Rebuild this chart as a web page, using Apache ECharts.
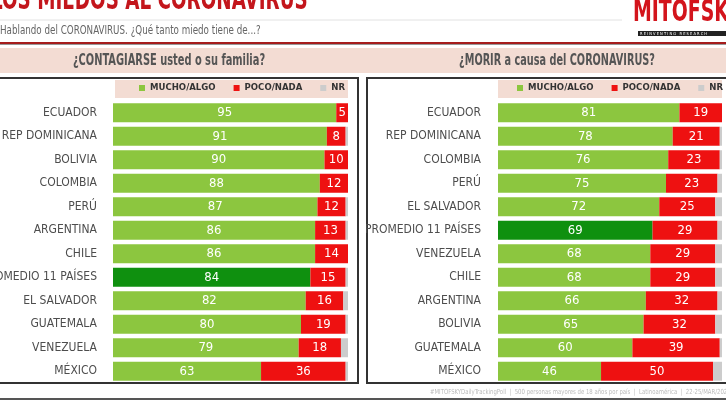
<!DOCTYPE html>
<html><head><meta charset="utf-8">
<script src="https://cdn.jsdelivr.net/npm/echarts@6/dist/echarts.min.js"></script>
<style>html,body{margin:0;padding:0;background:#fff;}#c{width:726px;height:400px;}</style>
</head><body><div id="c"></div>
<script>
var FONT = '"DejaVu Sans Condensed","Liberation Sans Narrow",sans-serif';
var seriesNames = ['MUCHO/ALGO','POCO/NADA','NR'];
var leftCats = ['ECUADOR','REP DOMINICANA','BOLIVIA','COLOMBIA','PERÚ','ARGENTINA','CHILE','PROMEDIO 11 PAÍSES','EL SALVADOR','GUATEMALA','VENEZUELA','MÉXICO'];
var leftMucho = [95,91,90,88,87,86,86,84,82,80,79,63];
var leftPoco  = [5,8,10,12,12,13,14,15,16,19,18,36];
var leftNR    = [0,1,0,0,1,1,0,1,2,1,3,1];
var rightCats = ['ECUADOR','REP DOMINICANA','COLOMBIA','PERÚ','EL SALVADOR','PROMEDIO 11 PAÍSES','VENEZUELA','CHILE','ARGENTINA','BOLIVIA','GUATEMALA','MÉXICO'];
var rightMucho = [81,78,76,75,72,69,68,68,66,65,60,46];
var rightPoco  = [19,21,23,23,25,29,29,29,32,32,39,50];
var rightNR    = [0,1,1,2,3,2,3,3,2,3,1,4];

var GREEN = '#8cc63f', DKGREEN = '#0f900f', RED = '#ee1111', GRAY = '#cccccc';

function greenData(cats, vals){
  return vals.map(function(v,i){
    return cats[i].indexOf('PROMEDIO') === 0 ? {value:v, itemStyle:{color:DKGREEN}} : v;
  });
}
var valLabel = {show:true, position:'inside', color:'#fff', fontFamily:FONT, fontSize:13};
function mk(idx, cats, m, p, n){
  return [
    {name:seriesNames[0], type:'bar', stack:'s'+idx, xAxisIndex:idx, yAxisIndex:idx, barWidth:19,
     itemStyle:{color:GREEN}, label:valLabel, data:greenData(cats,m)},
    {name:seriesNames[1], type:'bar', stack:'s'+idx, xAxisIndex:idx, yAxisIndex:idx, barWidth:19,
     itemStyle:{color:RED}, label:valLabel, data:p},
    {name:seriesNames[2], type:'bar', stack:'s'+idx, xAxisIndex:idx, yAxisIndex:idx, barWidth:19,
     itemStyle:{color:GRAY}, data:n}
  ];
}
var legendBase = {icon:'rect', itemWidth:6, itemHeight:6, itemGap:18, itemTextGap:4, top:83, width:260, padding:0,
  textStyle:{fontFamily:FONT, fontSize:9.5, fontWeight:'bold', color:'#333'}, data:seriesNames};
function yAx(idx, cats, margin){
  return {type:'category', gridIndex:idx, inverse:true, data:cats,
    axisLine:{show:false}, axisTick:{show:false},
    axisLabel:{margin:margin, color:'#4d4d4d', fontFamily:FONT, fontSize:12}};
}
function xAx(idx){
  return {type:'value', gridIndex:idx, min:0, max:100, show:false, splitLine:{show:false}};
}
function stext(x, y, txt, font, fill, sx, align){
  return {type:'text', x:x, y:y, scaleX:sx, style:{text:txt, fill:fill, font:font, textAlign:align||'left', textVerticalAlign:'middle'}};
}
var chart = echarts.init(document.getElementById('c'));
chart.setOption({
  animation:false,
  backgroundColor:'#fff',
  graphic:[
    stext(-9, 1, 'LOS MIEDOS AL CORONAVIRUS', 'bold 30px '+FONT, '#c3161c', 0.68),
    {type:'line', shape:{x1:0,y1:20,x2:622,y2:20}, style:{stroke:'#e2e2e2', lineWidth:1}},
    stext(0, 31, 'Hablando del CORONAVIRUS. ¿Qué tanto miedo tiene de...?', '12px '+FONT, '#666', 0.81),
    stext(633, 13, 'MITOFSKY', 'bold 30px '+FONT, '#d3141c', 0.7),
    {type:'rect', shape:{x:638,y:31,width:90,height:5}, style:{fill:'#222'}},
    stext(640, 33.5, 'R E I N V E N T I N G   R E S E A R C H', '4px '+FONT, '#fff', 1),
    {type:'rect', shape:{x:0,y:42,width:726,height:2}, style:{fill:'#a51c1c'}},
    {type:'rect', shape:{x:0,y:44,width:726,height:1}, style:{fill:'#999'}},
    {type:'rect', shape:{x:0,y:48,width:726,height:25}, style:{fill:'#f3dcd3'}},
    stext(169, 61, '¿CONTAGIARSE usted o su familia?', 'bold 15px '+FONT, '#555', 0.73, 'center'),
    stext(557, 61, '¿MORIR a causa del CORONAVIRUS?', 'bold 15px '+FONT, '#555', 0.72, 'center'),
    {type:'rect', shape:{x:-2,y:78,width:360,height:305}, style:{fill:'none', stroke:'#333', lineWidth:2}},
    {type:'rect', shape:{x:367,y:78,width:362,height:305}, style:{fill:'none', stroke:'#333', lineWidth:2}},
    {type:'rect', z:-1, shape:{x:115,y:80,width:233,height:18}, style:{fill:'#f3dcd3'}},
    {type:'rect', z:-1, shape:{x:498,y:80,width:224,height:18}, style:{fill:'#f3dcd3'}},
    stext(430, 392, '#MITOFSKYDailyTrackingPoll  |  500 personas mayores de 18 años por país  |  Latinoamérica  |  22-25/MAR/2020', '7px '+FONT, '#bbb', 0.85),
    {type:'rect', shape:{x:0,y:398,width:726,height:2}, style:{fill:'#555'}}
  ],
  legend:[
    Object.assign({}, legendBase, {left:139}),
    Object.assign({}, legendBase, {left:517})
  ],
  grid:[
    {left:113, right:378, top:101, bottom:17, containLabel:false, outerBoundsMode:'none'},
    {left:498, right:4, top:101, bottom:17, containLabel:false, outerBoundsMode:'none'}
  ],
  xAxis:[xAx(0), xAx(1)],
  yAxis:[yAx(0,leftCats,16), yAx(1,rightCats,17)],
  series: mk(0,leftCats,leftMucho,leftPoco,leftNR).concat(mk(1,rightCats,rightMucho,rightPoco,rightNR))
});
</script></body></html>
